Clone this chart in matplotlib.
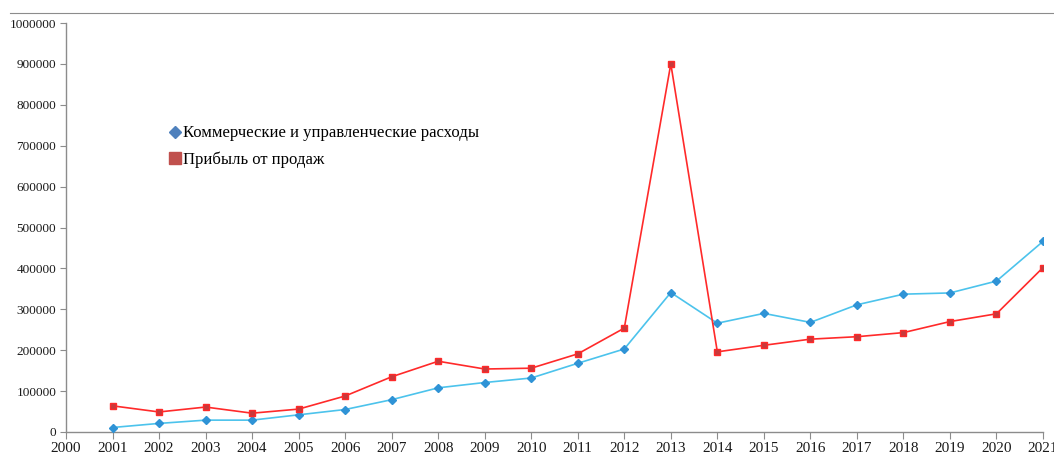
import matplotlib
matplotlib.use('Agg')
import matplotlib.pyplot as plt
from matplotlib.lines import Line2D

plt.rcParams['font.family'] = ['Liberation Serif', 'DejaVu Serif']

years = list(range(2001, 2022))
# Коммерческие и управленческие расходы
expenses = [11000, 21000, 29000, 29000, 42000, 55000, 79000, 108000, 121000, 132000,
            168000, 203000, 341000, 266000, 290000, 268000, 311000, 337000, 340000,
            369000, 466000]
# Прибыль от продаж
profit = [64000, 49000, 61000, 46000, 56000, 88000, 135000, 173000, 154000, 156000,
          191000, 254000, 900000, 196000, 212000, 227000, 233000, 243000, 270000,
          289000, 402000]
labels = ['Коммерческие и управленческие расходы', 'Прибыль от продаж']

fig = plt.figure(figsize=(10.54, 4.57), dpi=100)
ax = fig.add_axes([66 / 1054, 1 - 432 / 457, (1043 - 66) / 1054, (432 - 23) / 457])

ax.plot(years, expenses, color='#4cc3ec', lw=1.2, marker='D', ms=4,
        mfc='#2f93d6', mec='#2f93d6', zorder=3)
ax.plot(years, profit, color='#ff2a2a', lw=1.2, marker='s', ms=5,
        mfc='#c8393b', mec='#ff2a2a', mew=1.0, zorder=3)

ax.set_xlim(2000, 2021)
ax.set_ylim(0, 1000000)
ax.set_xticks(range(2000, 2022))
ax.set_yticks(range(0, 1000001, 100000))
ax.set_yticklabels([str(v) for v in range(0, 1000001, 100000)])

for side in ('top', 'right'):
    ax.spines[side].set_visible(False)
for side in ('left', 'bottom'):
    ax.spines[side].set_color('#8c8c8c')
    ax.spines[side].set_linewidth(1.0)
ax.tick_params(axis='y', direction='out', length=4, color='#8c8c8c', labelsize=9.5, pad=3)
ax.tick_params(axis='x', direction='out', length=5, color='#8c8c8c', labelsize=11, pad=2)
for lab in ax.get_xticklabels() + ax.get_yticklabels():
    lab.set_color('#1a1a1a')

handles = [
    Line2D([], [], ls='none', marker='D', ms=6, mfc='#4f81bd', mec='#4f81bd'),
    Line2D([], [], ls='none', marker='s', ms=8, mfc='#c0504d', mec='#c0504d'),
]
ax.legend(handles, labels, loc='upper left', bbox_to_anchor=(0.1, 0.766),
          frameon=False, fontsize=12, handlelength=0.6, handletextpad=0.15,
          labelspacing=0.6, borderaxespad=0)

# thin rule across the top of the figure
fig.add_artist(Line2D([10 / 1054, 1], [1 - 13 / 457, 1 - 13 / 457],
                      color='#8c8c8c', lw=0.8, transform=fig.transFigure))

fig.savefig('out.png', dpi=100)
